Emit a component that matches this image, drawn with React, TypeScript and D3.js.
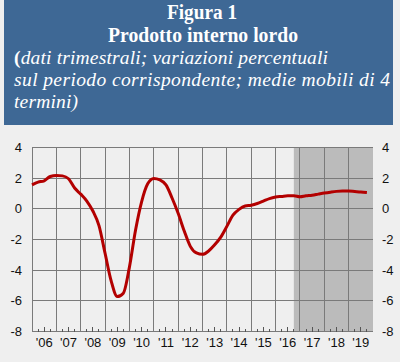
import * as d3 from "d3";
import { useEffect, useRef } from "react";

// quarterly GDP growth, 4-term moving average, 2006Q1 .. 2019Q4
const years = d3.range(2006, 2020);
const yearLabels = years.map((y) => "'" + String(y).slice(2));
const gdp = [
  1.55, 1.73, 1.82, 2.1, 2.17, 2.14, 1.95, 1.35,
  0.95, 0.5, -0.15, -1.1, -2.9, -4.7, -5.72, -5.5,
  -3.8, -1.4, 0.45, 1.62, 1.97, 1.88, 1.55, 0.7,
  -0.3, -1.45, -2.45, -2.88, -2.97, -2.75, -2.35, -1.85,
  -1.15, -0.42, -0.04, 0.18, 0.23, 0.34, 0.5, 0.66,
  0.76, 0.8, 0.84, 0.84, 0.78, 0.84, 0.88, 0.95,
  1.02, 1.08, 1.13, 1.15, 1.15, 1.12, 1.09, 1.05,
];
const yTicks = [-8, -6, -4, -2, 0, 2, 4];
const forecastStart = 2016.75;

const W = 400;
const H = 362;

const App = () => {
  const ref = useRef<SVGSVGElement>(null);

  useEffect(() => {
    if (!ref.current) return;
    const svg = d3.select(ref.current);
    svg.selectAll("*").remove();

    const left = 32;
    const right = 373;
    const top = 147.3;
    const bottom = 331.6;

    const x = d3.scaleLinear().domain([2006, 2020]).range([left, right]);
    const y = d3.scaleLinear().domain([-8, 4]).range([bottom, top]);

    svg.append("rect").attr("width", W).attr("height", H).attr("fill", "#efefef");

    // title box
    svg.append("rect")
      .attr("x", 4).attr("y", 0).attr("width", 389).attr("height", 125)
      .attr("fill", "#3e6895");
    const title = svg.append("g").attr("fill", "#fff")
      .style("font-family", "'Liberation Serif', 'Times New Roman', serif");
    title.append("text").attr("x", 202).attr("y", 18.5).attr("text-anchor", "middle")
      .attr("font-size", 20.5).attr("font-weight", "bold")
      .attr("textLength", 70).attr("lengthAdjust", "spacingAndGlyphs").text("Figura 1");
    title.append("text").attr("x", 203).attr("y", 41.5).attr("text-anchor", "middle")
      .attr("font-size", 20).attr("font-weight", "bold")
      .attr("textLength", 190).attr("lengthAdjust", "spacingAndGlyphs").text("Prodotto interno lordo");
    const l1 = title.append("text").attr("x", 14).attr("y", 64).attr("font-size", 19.5)
      .attr("textLength", 314).attr("lengthAdjust", "spacing");
    l1.append("tspan").attr("font-weight", "bold").text("(");
    l1.append("tspan").attr("font-style", "italic").text("dati trimestrali; variazioni percentuali");
    title.append("text").attr("x", 14).attr("y", 86).attr("font-size", 19.5)
      .attr("font-style", "italic").attr("textLength", 376).attr("lengthAdjust", "spacing")
      .text("sul periodo corrispondente; medie mobili di 4");
    title.append("text").attr("x", 14).attr("y", 107.5).attr("font-size", 19.5)
      .attr("font-style", "italic").attr("textLength", 64).attr("lengthAdjust", "spacing")
      .text("termini)");

    // forecast shading
    svg.append("rect")
      .attr("x", x(forecastStart)).attr("y", top)
      .attr("width", right - x(forecastStart)).attr("height", bottom - top)
      .attr("fill", "#bbbbbb");

    // grid
    const grid = svg.append("g").attr("stroke", "#7a7a7a").attr("stroke-width", 1).attr("shape-rendering", "crispEdges");
    grid.selectAll("line.h").data(yTicks).join("line").attr("class", "h")
      .attr("x1", left).attr("x2", right).attr("y1", (d) => y(d)).attr("y2", (d) => y(d));
    grid.selectAll("line.v").data(years).join("line").attr("class", "v")
      .attr("x1", (d) => x(d)).attr("x2", (d) => x(d)).attr("y1", top).attr("y2", bottom);

    // quarter ticks
    const qt = years.flatMap((yr) => [0.25, 0.5, 0.75].map((q) => ({ t: yr + q, len: q === 0.5 ? 5 : 3 })));
    svg.append("g").attr("stroke", "#555").attr("shape-rendering", "crispEdges")
      .selectAll("line").data(qt).join("line")
      .attr("x1", (d) => x(d.t)).attr("x2", (d) => x(d.t))
      .attr("y1", bottom).attr("y2", (d) => bottom - d.len);

    // labels
    const lab = svg.append("g").style("font-family", "'Liberation Sans', Arial, sans-serif")
      .attr("font-size", 13).attr("fill", "#111");
    lab.selectAll("text.yl").data(yTicks).join("text").attr("class", "yl")
      .attr("x", 22).attr("y", (d) => y(d) + 4.5).attr("text-anchor", "end").text((d) => String(d));
    lab.selectAll("text.yr").data(yTicks).join("text").attr("class", "yr")
      .attr("x", 382).attr("y", (d) => y(d) + 4.5).attr("text-anchor", "start").text((d) => String(d));
    lab.selectAll("text.xl").data(years).join("text").attr("class", "xl")
      .attr("x", (d) => x(d + 0.5)).attr("y", 347).attr("text-anchor", "middle")
      .text((_d, i) => yearLabels[i]);

    // GDP line
    const line = d3.line<number>()
      .x((_d, i) => x(2006 + i / 4))
      .y((d) => y(d))
      .curve(d3.curveMonotoneX);
    svg.append("path").datum(gdp).attr("d", line)
      .attr("fill", "none").attr("stroke", "#b30000").attr("stroke-width", 3)
      .attr("stroke-linejoin", "round");
  }, []);

  return (
    <>
      <style>{"body{margin:0;background:#efefef}"}</style>
      <svg ref={ref} width={W} height={H} style={{ display: "block" }} />
    </>
  );
};

export default App;
